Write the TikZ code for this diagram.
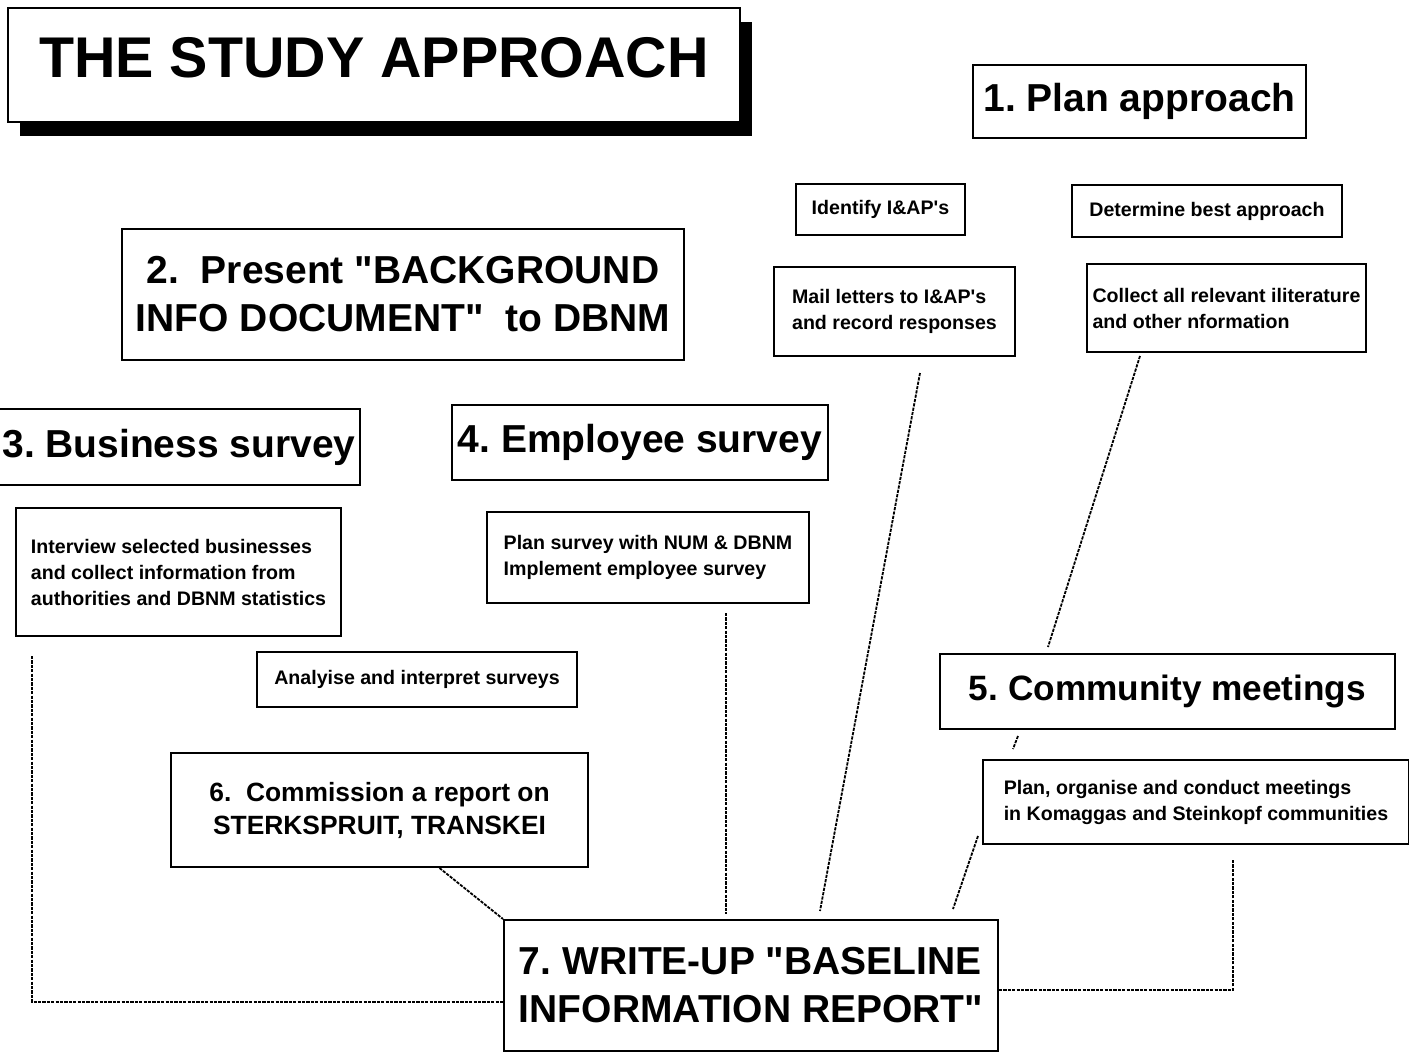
\documentclass[tikz,border=0pt]{standalone}
\usepackage{fontspec}
\setmainfont{Liberation Sans}[Ligatures=TeXOff]
\usetikzlibrary{shadows}

\begin{document}
\frenchspacing
\begin{tikzpicture}[x=.5pt,y=-.5pt,
  box/.style={draw,line width=1pt,inner sep=2pt,fill=white},
  head/.style={box,font=\fontsize{19.5}{24}\selectfont\bfseries,align=center},
  note/.style={box,font=\fontsize{9.8}{13}\selectfont\bfseries,align=left},
  link/.style={line width=.9pt,dash pattern=on 1.6pt off .6pt}]
\useasboundingbox (0,0) rectangle (1409,1054);
\fill[white] (0,0) rectangle (1409,1054);
% title
\node[head,font=\fontsize{28.7}{32}\selectfont\bfseries,minimum width=366pt,minimum height=57pt,text depth=7.5pt,
  drop shadow={shadow xshift=6pt,shadow yshift=-7pt,fill=black,opacity=1}] (title) at (374,65) {THE STUDY APPROACH};
% step 1
\node[head,minimum width=166.5pt,minimum height=36.5pt] (plan) at (1139.5,101.5) {1. Plan approach};
\node[note,minimum width=84.5pt,minimum height=25.5pt] (identify) at (880.5,209.5) {Identify I\&AP's};
\node[note,minimum width=135pt,minimum height=26pt] (determine) at (1207,211) {Determine best approach};
\node[note,minimum width=120.5pt,minimum height=44.5pt] (mail) at (894.5,311.5) {Mail letters to I\&AP's\\and record responses};
\node[note,minimum width=139.5pt,minimum height=44pt] (collect) at (1226.5,308) {Collect all relevant iliterature\\and other nformation};
% step 2
\node[head,minimum width=281pt,minimum height=65.5pt] (present) at (403,294.5) {2.\ \ Present "BACKGROUND\\INFO DOCUMENT"\ \ to DBNM};
% steps 3 and 4
\node[head,minimum width=181pt,minimum height=38pt] (business) at (179,447) {3. Business survey};
\node[head,minimum width=188pt,minimum height=37.5pt] (employee) at (640,442.5) {4. Employee survey};
\node[note,minimum width=162.5pt,minimum height=64pt] (interview) at (178.5,572) {Interview selected businesses\\and collect information from\\authorities and DBNM statistics};
\node[note,minimum width=161pt,minimum height=45.5pt] (plansurvey) at (648,557.5) {Plan survey with NUM \& DBNM\\Implement employee survey};
\node[note,minimum width=160pt,minimum height=27.5pt] (analyse) at (417,679.5) {Analyise and interpret surveys};
% step 5
\node[head,font=\fontsize{17.6}{22}\selectfont\bfseries,minimum width=227.5pt,minimum height=37.5pt] (community) at (1167.5,691.5) {5. Community meetings};
\node[note,minimum width=213pt,minimum height=42pt] (organise) at (1196,802) {Plan, organise and conduct meetings\\in Komaggas and Steinkopf communities};
% steps 6 and 7
\node[head,font=\fontsize{13.2}{16.5}\selectfont\bfseries,minimum width=208.5pt,minimum height=57pt] (commission) at (379.5,810) {6.\ \ Commission a report on\\STERKSPRUIT, TRANSKEI};
\node[head,align=left,minimum width=247pt,minimum height=65.5pt] (writeup) at (751,985.5) {7. WRITE-UP "BASELINE\\INFORMATION REPORT"};
% links into the report
\draw[link] ([xshift=8.5pt,yshift=-9.5pt]interview.south west) |- ([yshift=-8.25pt]writeup.west);
\draw[link] ([xshift=30pt]commission.south) -- (writeup.north west);
\draw[link] ([xshift=39pt,yshift=-4.5pt]plansurvey.south) -- ([xshift=-12.5pt,yshift=2.5pt]writeup.north);
\draw[link] ([xshift=12.75pt,yshift=-8pt]mail.south) -- ([xshift=34.5pt,yshift=4pt]writeup.north);
\draw[link] ([xshift=-43.25pt,yshift=-1.5pt]collect.south) -- ([xshift=-59.75pt,yshift=3pt]community.north);
\draw[link] ([xshift=-74.75pt,yshift=-3pt]community.south) -- ([xshift=-91.5pt,yshift=5pt]organise.north);
\draw[link] ([xshift=-2pt,yshift=4.5pt]organise.south west) -- ([xshift=-23pt,yshift=5pt]writeup.north east);
\draw[link] ([yshift=-2.25pt]writeup.east) -| ([xshift=18.5pt,yshift=-7pt]organise.south);
\end{tikzpicture}
\end{document}
